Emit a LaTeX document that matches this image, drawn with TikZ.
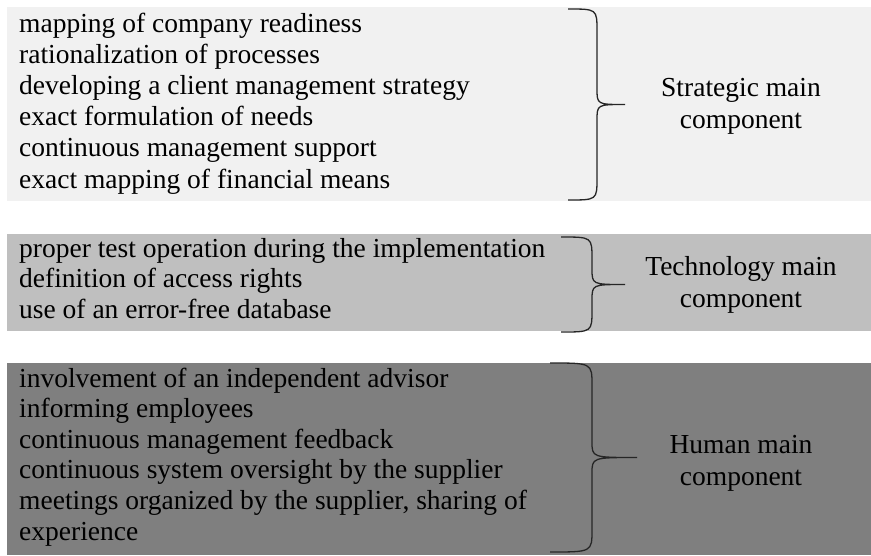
\documentclass[tikz,border=0pt]{standalone}
\usepackage{fontspec}
\setmainfont{Liberation Serif}

\definecolor{bandlight}{HTML}{F1F1F1}
\definecolor{bandmid}{HTML}{BFBFBF}
\definecolor{banddark}{HTML}{7F7F7F}

% brace pointing right: left x, stem x, tip x, top y, bottom y
\newcommand{\bandbrace}[5]{%
  \draw[brace] (#1,#4) .. controls (#2,#4) .. (#2,{#4+22})
    -- (#2,{(#4+#5)/2-16}) .. controls (#2,{(#4+#5)/2}) .. (#3,{(#4+#5)/2})
    .. controls (#2,{(#4+#5)/2}) .. (#2,{(#4+#5)/2+16})
    -- (#2,{#5-22}) .. controls (#2,#5) .. (#1,#5);}

\begin{document}
\begin{tikzpicture}[x=1pt, y=-1pt,
    item/.style={anchor=base west, inner sep=0pt, font=\fontsize{27.5}{31}\selectfont},
    label/.style={anchor=base, inner sep=0pt, align=center, font=\fontsize{27.5}{32}\selectfont},
    brace/.style={line width=1.3pt, color=black!85}]

    \useasboundingbox (0,0) rectangle (871,555);

    % the three bands
    \fill[bandlight] (7,7) rectangle (871,201);
    \fill[bandmid] (7,234) rectangle (871,331);
    \fill[banddark] (7,363) rectangle (871,555);

    % strategic
    \foreach \t [count=\i] in {mapping of company readiness,
        rationalization of processes,
        developing a client management strategy,
        exact formulation of needs,
        continuous management support,
        exact mapping of financial means}
        \node[item] (s\i) at (19, {32+31.2*(\i-1)}) {\t};
    \bandbrace{568}{597}{625}{9}{200}
    \node[label] (strategic) at (741, 128) {Strategic main\\component};

    % technology
    \foreach \t [count=\i] in {proper test operation during the implementation,
        definition of access rights,
        use of an error-free database}
        \node[item] (t\i) at (19, {257+30.5*(\i-1)}) {\t};
    \bandbrace{561}{592}{625}{237}{332}
    \node[label] (technology) at (741, 307) {Technology main\\component};

    % human
    \foreach \t [count=\i] in {involvement of an independent advisor,
        informing employees,
        continuous management feedback,
        continuous system oversight by the supplier,
        {meetings organized by the supplier, sharing of},
        experience}
        \node[item] (h\i) at (19, {387+30.6*(\i-1)}) {\t};
    \bandbrace{550}{592}{637}{363}{552}
    \node[label] (human) at (741, 485) {Human main\\component};

\end{tikzpicture}
\end{document}
